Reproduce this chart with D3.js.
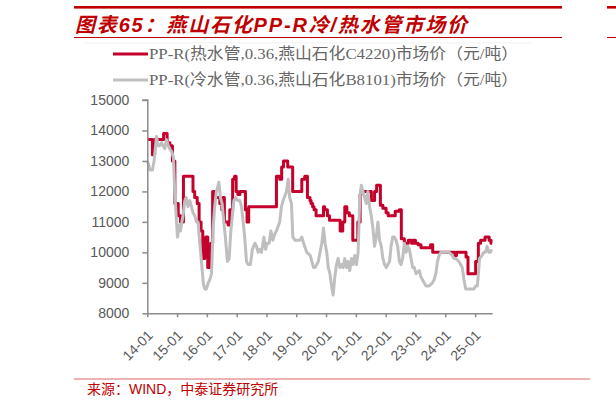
<!DOCTYPE html>
<html lang="zh">
<head>
<meta charset="UTF-8">
<title>燕山石化PP-R冷/热水管市场价</title>
<script src="https://cdn.jsdelivr.net/npm/d3@7"></script>
<style>
  body { margin: 0; background: #fff; }
  svg { display: block; }
</style>
</head>
<body>
<div id="chart"></div>
<script>
// chart texts
const titleText = "图表65：燕山石化PP-R冷/热水管市场价";
const sourceText = "来源：WIND，中泰证券研究所";
const seriesNames = [
  "PP-R(热水管,0.36,燕山石化C4220)市场价（元/吨）",
  "PP-R(冷水管,0.36,燕山石化B8101)市场价（元/吨）"
];

// hot water pipe C4220 (step series)
const hotDates = [
  "2014-01-01","2014-03-05","2014-04-01","2014-07-20","2014-09-01","2014-10-05","2014-11-05","2014-12-05",
  "2015-01-15","2015-02-12","2015-03-20","2015-07-15","2015-08-05","2015-09-05","2015-09-28","2015-10-22",
  "2015-11-12","2015-12-06","2015-12-18","2016-01-12","2016-02-18","2016-03-12","2016-04-06","2016-06-08",
  "2016-07-03","2016-07-18","2016-08-03","2016-09-18","2016-10-08","2016-11-12","2016-12-06","2016-12-25",
  "2017-01-15","2017-02-09","2017-04-18","2017-05-08","2017-05-28","2018-05-03","2018-06-12","2018-07-06",
  "2018-07-28","2018-09-18","2018-11-18","2019-03-10","2019-04-15","2019-05-18","2019-06-18","2019-07-01",
  "2019-07-21","2019-08-07","2019-09-01","2019-12-01","2019-12-16","2020-01-18","2020-02-12","2020-06-22",
  "2020-07-24","2020-08-18","2020-09-12","2020-10-12","2020-11-24","2021-01-25","2021-02-22","2021-03-05",
  "2021-07-10","2021-08-18","2021-09-12","2021-10-28","2021-11-28","2022-01-06","2022-02-01","2022-04-28",
  "2022-06-18","2022-07-12","2022-08-18","2022-10-06","2022-11-15","2022-12-06","2023-01-01","2023-02-03",
  "2023-03-10","2023-07-06","2023-08-01","2024-04-28","2024-05-18","2024-09-12","2024-10-06","2025-01-08",
  "2025-02-10","2025-03-10","2025-05-03","2025-06-22","2025-07-15","2025-07-28"
];
const hotValues = [
  13700, 13200, 13700, 13900, 13600, 13500, 13000, 11600,
  11200, 11000, 12500, 12000, 11800, 11600, 11000, 10700,
  9800, 10200, 10500, 9500, 10300, 12000, 11800, 11600,
  11400, 11800, 11000, 10900, 11400, 12400, 12500, 12000,
  11900, 12000, 11400, 11000, 11500, 12500, 12400, 12800,
  13000, 12800, 12000, 12400, 12500, 11800, 11700, 11600,
  11500, 11400, 11200, 11500, 11400, 11200, 11050, 10700,
  11000, 11500, 11300, 11200, 10400, 11000, 11900, 12000,
  11700, 12000, 12200, 11550, 11450, 11300, 11200, 11350,
  11400, 10450, 10300, 10400, 10300, 10400, 10300, 10250,
  10150, 10250, 10000, 9900, 10000, 9850, 9300, 9700,
  10300, 10400, 10500, 10400, 10300, 10300
];

// cold water pipe B8101
const coldDates = [
  "2014-01-01","2014-01-15","2014-02-03","2014-03-05","2014-03-25","2014-04-24","2014-05-13","2014-06-03",
  "2014-06-24","2014-07-13","2014-08-03","2014-08-24","2014-09-15","2014-10-03","2014-10-28","2014-11-18",
  "2014-12-03","2014-12-21","2015-01-06","2015-01-27","2015-02-12","2015-03-01","2015-03-15","2015-04-06",
  "2015-04-24","2015-05-15","2015-06-06","2015-06-27","2015-07-15","2015-08-06","2015-08-27","2015-09-15",
  "2015-10-06","2015-10-27","2015-11-18","2015-12-06","2015-12-27","2016-01-18","2016-02-06","2016-02-27",
  "2016-03-18","2016-04-06","2016-04-27","2016-05-27","2016-06-15","2016-07-06","2016-07-27","2016-08-15",
  "2016-09-09","2016-10-01","2016-10-18","2016-11-12","2016-11-27","2016-12-21","2017-01-12","2017-02-09",
  "2017-03-01","2017-03-21","2017-04-09","2017-05-01","2017-05-21","2017-06-18","2017-07-12","2017-08-12",
  "2017-09-01","2017-09-21","2017-10-12","2017-11-01","2017-12-01","2017-12-21","2018-01-09","2018-02-03",
  "2018-02-24","2018-03-21","2018-04-12","2018-05-03","2018-06-12","2018-07-03","2018-07-24","2018-09-03",
  "2018-09-24","2018-10-12","2018-11-03","2018-11-20","2018-12-15","2019-02-15","2019-03-10","2019-04-01",
  "2019-05-10","2019-06-20","2019-08-01","2019-08-20","2019-09-10","2019-09-28","2019-11-10","2019-12-01",
  "2019-12-20","2020-01-10","2020-01-28","2020-02-18","2020-03-08","2020-03-28","2020-04-18","2020-05-08",
  "2020-05-28","2020-06-18","2020-07-08","2020-07-28","2020-08-18","2020-09-08","2020-09-28","2020-10-18",
  "2020-11-08","2020-11-28","2020-12-18","2021-01-08","2021-01-28","2021-02-18","2021-03-08","2021-03-28",
  "2021-04-18","2021-05-08","2021-05-28","2021-06-18","2021-07-08","2021-07-28","2021-08-18","2021-09-08",
  "2021-09-28","2021-10-18","2021-11-08","2021-11-28","2021-12-18","2022-01-08","2022-01-28","2022-02-18",
  "2022-03-08","2022-03-28","2022-04-18","2022-05-08","2022-05-28","2022-06-18","2022-07-08","2022-07-28",
  "2022-08-18","2022-09-08","2022-09-28","2022-10-18","2022-11-08","2022-11-28","2022-12-18","2023-01-08",
  "2023-02-18","2023-03-08","2023-03-28","2023-05-08","2023-06-18","2023-07-28","2023-08-18","2023-09-08",
  "2023-09-28","2023-10-18","2023-11-08","2024-01-08","2024-02-18","2024-03-28","2024-04-18","2024-05-08",
  "2024-06-18","2024-07-28","2024-08-18","2024-09-08","2024-11-08","2024-12-18","2025-01-08","2025-01-28",
  "2025-02-08","2025-02-25","2025-03-28","2025-04-18","2025-05-08","2025-05-28","2025-06-18","2025-07-08",
  "2025-07-22"
];
const coldValues = [
  13000, 12900, 12700, 12700, 13000, 13800, 13500, 13500,
  13600, 13500, 13400, 13700, 13500, 13400, 13300, 13100,
  12000, 11200, 10500, 10900, 10700, 11000, 11200, 11700,
  11800, 11500, 11700, 11500, 11300, 11200, 11000, 11000,
  10300, 9700, 9000, 8800, 8800, 9000, 9100, 9300,
  10800, 11500, 12000, 12300, 11800, 11600, 11000, 10500,
  9700, 9800, 10600, 11300, 11700, 11800, 11700, 11700,
  11500, 11000, 10500, 9700, 9600, 9600, 10100, 10300,
  10200, 10000, 10100, 10000, 10500, 10100, 10300, 10300,
  10700, 10400, 10600, 10700, 11000, 11500, 11700, 12000,
  12400, 11800, 11600, 10500, 10400, 10400, 10500, 10300,
  10000, 9900, 9500, 9500, 9600, 9700, 10300, 10800,
  10300, 10000, 9500, 9300, 8900, 8600, 9200, 9600,
  9800, 9500, 9600, 9500, 9800, 9500, 9700, 9400,
  9800, 9600, 9900, 9600, 10000, 11800, 12200, 12000,
  11800, 11600, 12000, 11500, 11200, 10800, 10200, 10500,
  11000, 10400, 10200, 9800, 9600, 9500, 9600, 9700,
  10200, 10500, 10500, 10400, 10200, 9700, 9600, 9800,
  10300, 10000, 10200, 10100, 9800, 9500, 9500, 9300,
  9400, 9200, 9100, 8900, 8900, 9000, 9100, 9300,
  9700, 9900, 10000, 10000, 10000, 9900, 9800, 9800,
  9700, 9500, 9100, 8800, 8800, 8800, 8900, 8900,
  9200, 9800, 9900, 10000, 10000, 10200, 10000, 10000,
  10100
];

const yTicks = [8000, 9000, 10000, 11000, 12000, 13000, 14000, 15000];
const xTickLabels = ["14-01","15-01","16-01","17-01","18-01","19-01","20-01","21-01","22-01","23-01","24-01","25-01"];

const W = 616, H = 409;
const red = "#c4002b", grey = "#bfbfbf", axisGrey = "#8c8c8c", textGrey = "#595959", titleRed = "#c00000";

const parse = d3.timeParse("%Y-%m-%d");
const hot = hotDates.map((d, i) => ({ date: parse(d), value: hotValues[i] }));
const cold = coldDates.map((d, i) => ({ date: parse(d), value: coldValues[i] }));
const tickDates = xTickLabels.map(s => parse("20" + s + "-01"));

const svg = d3.select("#chart").append("svg")
  .attr("width", W).attr("height", H)
  .style("font-family", "'Liberation Sans', Arial, 'Noto Sans CJK SC', sans-serif");

// header rules
svg.append("rect").attr("x", 74).attr("y", 6).attr("width", 488).attr("height", 2.6).attr("fill", titleRed);
svg.append("rect").attr("x", 607).attr("y", 6).attr("width", 9).attr("height", 2.6).attr("fill", titleRed);
svg.append("rect").attr("x", 74).attr("y", 37).attr("width", 488).attr("height", 1).attr("fill", titleRed);
svg.append("rect").attr("x", 607).attr("y", 37).attr("width", 9).attr("height", 1).attr("fill", titleRed);
svg.append("rect").attr("x", 83).attr("y", 42.5).attr("width", 450).attr("height", 0.8).attr("fill", "#eeeeee");

svg.append("text")
  .attr("x", 75).attr("y", 32)
  .attr("textLength", 392).attr("lengthAdjust", "spacing")
  .style("font-family", "'Liberation Sans', 'Noto Sans CJK SC', sans-serif")
  .style("font-size", "20px").style("font-weight", "bold").style("font-style", "italic")
  .attr("fill", titleRed)
  .text(titleText);

// legend
const legend = svg.append("g");
[red, grey].forEach((c, i) => {
  const y = 54 + i * 26;
  legend.append("line").attr("x1", 113).attr("x2", 148).attr("y1", y).attr("y2", y)
    .attr("stroke", c).attr("stroke-width", 3);
  legend.append("text").attr("x", 149).attr("y", y + 5)
    .attr("textLength", 369).attr("lengthAdjust", "spacingAndGlyphs")
    .style("font-family", "'Liberation Serif', 'Noto Sans CJK SC', serif")
    .style("font-size", "15.5px").attr("fill", "#666666")
    .text(seriesNames[i]);
});

// scales
const x = d3.scaleTime()
  .domain([parse("2014-01-01"), parse("2025-08-05")])
  .range([147.3, 492.7]);
const y = d3.scaleLinear().domain([8000, 15000]).range([313.3, 100]);

// lines (grey series drawn last, on top)
const hotLine = d3.line().curve(d3.curveStepAfter).x(d => x(d.date)).y(d => y(d.value));
const coldLine = d3.line().x(d => x(d.date)).y(d => y(d.value));

svg.append("path").datum(hot).attr("d", hotLine)
  .attr("fill", "none").attr("stroke", red).attr("stroke-width", 3).attr("stroke-linejoin", "round");
svg.append("path").datum(cold).attr("d", coldLine)
  .attr("fill", "none").attr("stroke", grey).attr("stroke-width", 3).attr("stroke-linejoin", "round");

// axes
const yAxis = svg.append("g").attr("transform", "translate(147.3,0)")
  .call(d3.axisLeft(y).tickValues(yTicks).tickSize(5).tickPadding(13).tickFormat(d3.format("d")));
const xAxis = svg.append("g").attr("transform", "translate(0,313.3)")
  .call(d3.axisBottom(x).tickValues(tickDates).tickSize(4).tickFormat((d, i) => xTickLabels[i]));

[yAxis, xAxis].forEach(g => {
  g.select(".domain").attr("stroke", axisGrey).attr("stroke-width", 1.5);
  g.selectAll(".tick line").attr("stroke", axisGrey).attr("stroke-width", 1.5);
  g.selectAll("text").attr("fill", textGrey).style("font-size", "14px")
    .style("font-family", "'Liberation Sans', Arial, sans-serif");
});
// x axis domain without outer end tick
xAxis.select(".domain").attr("d", "M147.3,0.5H492.7");
yAxis.select(".domain").attr("d", "M-5,100H0.5V313.3");

xAxis.selectAll(".tick text")
  .attr("text-anchor", "end")
  .attr("dy", null).attr("y", null)
  .attr("transform", "translate(6,23) rotate(-45)");

// source
svg.append("rect").attr("x", 74).attr("y", 378.5).attr("width", 516).attr("height", 1).attr("fill", "#e06666");
svg.append("text").attr("x", 87).attr("y", 394)
  .style("font-family", "'Liberation Sans', 'Noto Sans CJK SC', sans-serif")
  .style("font-size", "14px").attr("fill", titleRed)
  .text(sourceText);
</script>
</body>
</html>
